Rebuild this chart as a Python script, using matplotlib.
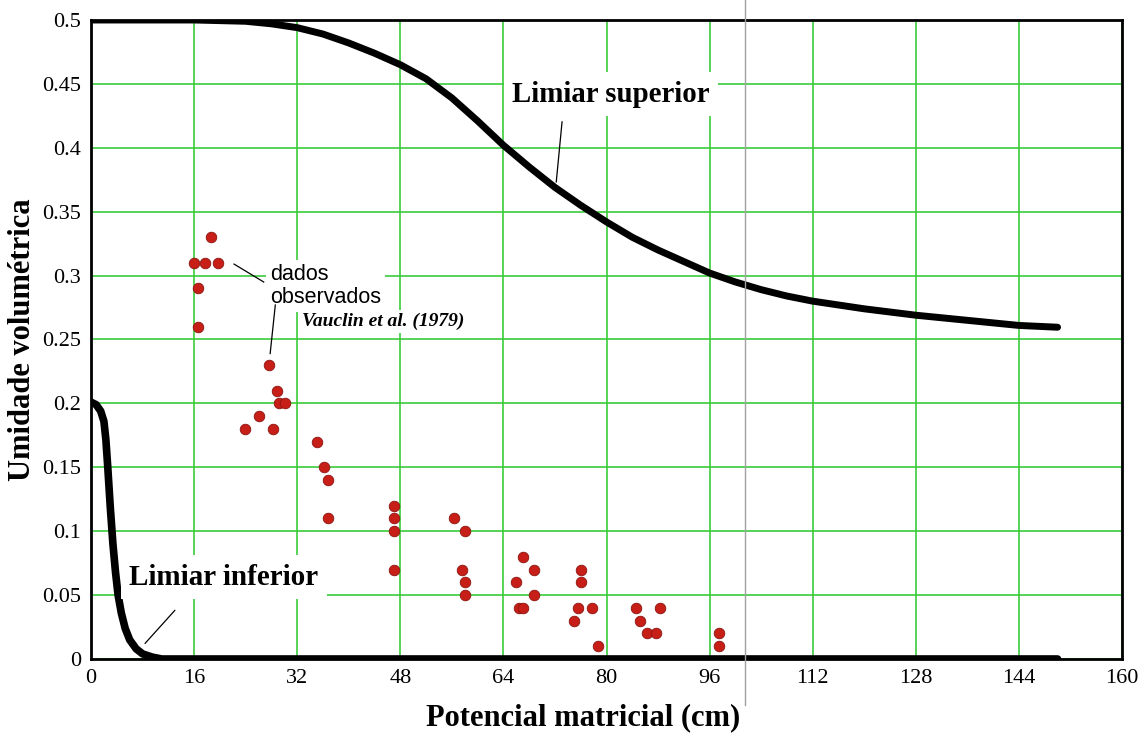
import matplotlib.pyplot as plt
import matplotlib.lines as mlines

# limiar superior (upper threshold curve)
sup_x = [0, 10, 16, 20, 24, 28, 32, 36, 40, 44, 48, 52, 56, 60, 64, 68, 72,
         76, 80, 84, 88, 92, 96, 100, 104, 108, 112, 120, 128, 136, 144, 150]
sup_y = [0.500, 0.500, 0.500, 0.4995, 0.499, 0.497, 0.494, 0.489, 0.482,
         0.474, 0.465, 0.454, 0.439, 0.421, 0.402, 0.385, 0.369, 0.355,
         0.342, 0.330, 0.320, 0.311, 0.302, 0.295, 0.289, 0.284, 0.280,
         0.274, 0.269, 0.265, 0.261, 0.2596]

# limiar inferior (lower threshold curve)
inf_x = [0, 0.8, 1.5, 2.0, 2.3, 2.6, 3.0, 3.4, 3.8, 4.2, 4.7, 5.3, 6.0, 7.0,
         8.0, 9.5, 11, 150]
inf_y = [0.201, 0.199, 0.194, 0.186, 0.172, 0.150, 0.118, 0.090, 0.068,
         0.050, 0.036, 0.024, 0.015, 0.008, 0.004, 0.0015, 0.0, 0.0]

# dados observados - Vauclin et al. (1979)
obs_x = [18.6, 16.0, 17.7, 19.7, 16.6, 16.6,
         27.6, 28.8, 29.1, 30.1, 26.0, 23.9, 28.2,
         35.0, 36.2, 36.7, 36.7,
         47.0, 47.0, 47.0, 47.0,
         56.3, 58.0, 57.5, 58.0, 58.0,
         67.0, 68.7, 65.9, 68.7, 66.4, 67.0,
         76.1, 76.1, 75.6, 77.8, 74.9, 78.7,
         84.6, 88.3, 85.2, 86.3, 87.7,
         97.4, 97.4]
obs_y = [0.33, 0.31, 0.31, 0.31, 0.29, 0.26,
         0.23, 0.21, 0.20, 0.20, 0.19, 0.18, 0.18,
         0.17, 0.15, 0.14, 0.11,
         0.12, 0.11, 0.10, 0.07,
         0.11, 0.10, 0.07, 0.06, 0.05,
         0.08, 0.07, 0.06, 0.05, 0.04, 0.04,
         0.07, 0.06, 0.04, 0.04, 0.03, 0.01,
         0.04, 0.04, 0.03, 0.02, 0.02,
         0.02, 0.01]

x_ticks = list(range(0, 161, 16))
y_ticks = [0, 0.05, 0.1, 0.15, 0.2, 0.25, 0.3, 0.35, 0.4, 0.45, 0.5]
y_labels = ["0", "0.05", "0.1", "0.15", "0.2", "0.25", "0.3", "0.35", "0.4",
            "0.45", "0.5"]

serif = "Liberation Serif"
sans = "Liberation Sans"

fig = plt.figure(figsize=(11.42, 7.35), dpi=100)
ax = fig.add_axes([0.0797, 0.1034, 0.9028, 0.8694])

ax.set_xlim(0, 160)
ax.set_ylim(0, 0.5)
ax.set_xticks(x_ticks)
ax.set_yticks(y_ticks)
ax.set_yticklabels(y_labels)
ax.tick_params(length=0, pad=7, labelsize=16)
for lab in ax.get_xticklabels() + ax.get_yticklabels():
    lab.set_fontfamily(serif)
ax.set_axisbelow(True)
ax.grid(True, color="#3acc3a", lw=1.2)
for sp in ax.spines.values():
    sp.set_linewidth(2)
    sp.set_color("black")

ax.plot(sup_x, sup_y, color="black", lw=5, solid_capstyle="round", zorder=3)
ax.plot(inf_x, inf_y, color="black", lw=5.5, solid_capstyle="round", zorder=3)
ax.scatter(obs_x, obs_y, s=58, color="#c81e18", edgecolors="#8a1410",
           linewidths=0.6, zorder=4)

box = dict(facecolor="white", edgecolor="none", pad=6)

# curve labels
ax.text(65.4, 0.442, "Limiar superior", fontfamily=serif, fontweight="bold",
        fontsize=20.8, ha="left", va="center", bbox=box, zorder=5)
ax.plot([72.2, 73.1], [0.3733, 0.4203], color="black", lw=0.9, zorder=5)

ax.text(5.9, 0.064, "Limiar inferior", fontfamily=serif, fontweight="bold",
        fontsize=21, ha="left", va="center", bbox=box, zorder=5)
ax.plot([8.4, 13.0], [0.0123, 0.038], color="black", lw=0.9, zorder=5)

ax.text(27.8, 0.292, "dados\nobservados", fontfamily=sans, fontsize=15.5,
        ha="left", va="center", linespacing=1.15,
        bbox=dict(facecolor="white", edgecolor="none", pad=3), zorder=5)
ax.plot([22.2, 26.8], [0.309, 0.295], color="black", lw=0.9, zorder=5)
ax.plot([28.6, 27.8], [0.277, 0.239], color="black", lw=0.9, zorder=5)

ax.text(32.7, 0.264, "Vauclin et al. (1979)", fontfamily=serif,
        fontstyle="italic", fontweight="bold", fontsize=14, ha="left",
        va="center", bbox=dict(facecolor="white", edgecolor="none", pad=2),
        zorder=5)

ax.set_xlabel("Potencial matricial (cm)", fontfamily=serif, fontweight="bold",
              fontsize=22, va="center")
ax.xaxis.set_label_coords(0.477, -0.0923)
ax.set_ylabel("Umidade volumétrica", fontfamily=serif, fontweight="bold",
              fontsize=22, va="center")
ax.yaxis.set_label_coords(-0.0669, 0.50)

# thin grey vertical stroke crossing the figure
fig.add_artist(mlines.Line2D([745 / 1142, 745 / 1142], [1.0, 1 - 705 / 735],
                             color="#a0a0a0", lw=1.0, zorder=6))

fig.savefig("out.png", dpi=100)
